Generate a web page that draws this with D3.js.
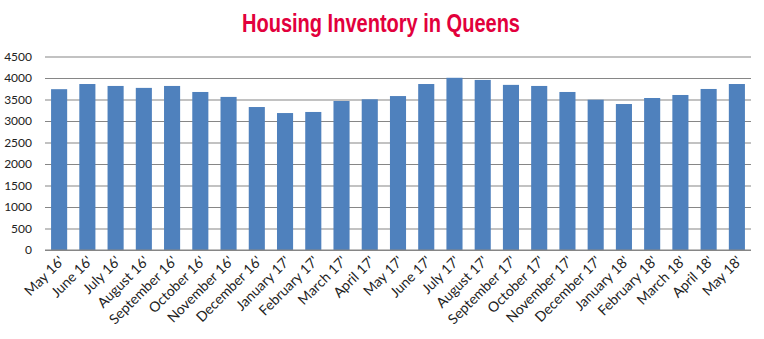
<!DOCTYPE html>
<html><head><meta charset="utf-8">
<script src="https://cdn.jsdelivr.net/npm/d3@7/dist/d3.min.js"></script>
<style>body{margin:0;background:#fff}</style>
</head><body><svg id="c" width="764" height="339"></svg>
<script>
const categories = ["May 16'","June 16'","July 16'","August 16'","September 16'","October 16'","November 16'","December 16'","January 17'","February 17'","March 17'","April 17'","May 17'","June 17'","July 17'","August 17'","September 17'","October 17'","November 17'","December 17'","January 18'","February 18'","March 18'","April 18'","May 18'"];
const values = [3740,3860,3815,3770,3815,3675,3560,3325,3185,3210,3465,3505,3580,3860,4005,3955,3840,3815,3675,3495,3395,3535,3605,3745,3860];
const yTicks = [0,500,1000,1500,2000,2500,3000,3500,4000,4500];
const title = "Housing Inventory in Queens";

const svg = d3.select("#c");
const L = 45, R = 751, T = 56.5, B = 250;
const x = d3.scaleBand().domain(categories).range([L, R]).paddingInner(0.43).paddingOuter(0.215);
const y = d3.scaleLinear().domain([0, 4500]).range([B, T]);

svg.append("text").attr("x", 242).attr("y", 32)
  .attr("font-family", "'Liberation Sans', Arial, sans-serif")
  .attr("font-weight", "bold").attr("font-size", 25)
  .attr("textLength", 278).attr("lengthAdjust", "spacingAndGlyphs")
  .attr("fill", "#e2003c").text(title);

const ya = svg.append("g").attr("transform", `translate(${L},0)`)
  .call(d3.axisLeft(y).tickValues(yTicks).tickSize(-(R - L)).tickPadding(13).tickFormat(d3.format("d")));
ya.select(".domain").remove();
ya.selectAll(".tick line").attr("stroke", "#868686").attr("stroke-width", 1.2);
ya.selectAll(".tick text").attr("font-family", "Lato, 'Open Sans', sans-serif").attr("font-size", 12).attr("fill", "#222");

svg.append("g").selectAll("rect").data(values).join("rect")
  .attr("x", (d, i) => x(categories[i])).attr("width", x.bandwidth())
  .attr("y", d => y(d)).attr("height", d => y(0) - y(d)).attr("fill", "#4f81bd");

svg.append("line").attr("x1", L).attr("x2", R).attr("y1", y(0)).attr("y2", y(0)).attr("stroke", "#868686").attr("stroke-width", 1.2);

const xa = svg.append("g").attr("transform", `translate(0,${B})`)
  .call(d3.axisBottom(x).tickSize(0).tickPadding(0));
xa.select(".domain").remove();
xa.selectAll(".tick text").attr("font-family", "Lato, 'Open Sans', sans-serif").attr("font-size", 14).attr("fill", "#222")
  .attr("text-anchor", "end").attr("dy", 0)
  .attr("transform", "translate(6,12) rotate(-45)");
</script></body></html>
